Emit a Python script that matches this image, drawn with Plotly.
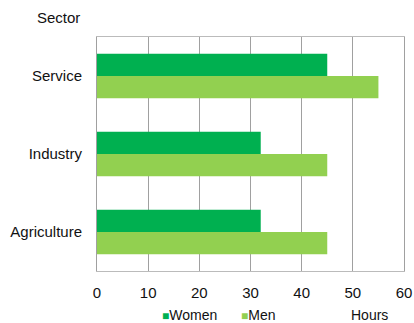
import plotly.graph_objects as go

sectors = ["Agriculture", "Industry", "Service"]
women = [32, 32, 45]
men = [45, 45, 55]
x_ticks = [0, 10, 20, 30, 40, 50, 60]
women_color = "#00B050"
men_color = "#92D050"

W, H = 414, 323
ML, MR, MT, MB = 97, 10, 37, 52
PW, PH = W - ML - MR, H - MT - MB

def px(x):
    return (x - ML) / PW

def py(y):
    return 1 - (y - MT) / PH

font = "Liberation Sans, Arial, sans-serif"
fig = go.Figure()
fig.add_trace(go.Bar(y=sectors, x=men, orientation="h", name="Men",
                     marker=dict(color=men_color, line=dict(width=0))))
fig.add_trace(go.Bar(y=sectors, x=women, orientation="h", name="Women",
                     marker=dict(color=women_color, line=dict(width=0))))

ann_font = dict(family=font, size=15, color="#111")
leg_font = dict(family=font, size=14, color="#111")
fig.update_layout(
    width=W, height=H,
    margin=dict(l=ML, r=MR, t=MT, b=MB, autoexpand=False),
    barmode="group", bargap=0.43, bargroupgap=0,
    plot_bgcolor="white", paper_bgcolor="white",
    font=dict(family=font, size=15, color="#111"),
    showlegend=False,
    xaxis=dict(range=[0, 60], tickvals=x_ticks, showgrid=True, gridcolor="#A0A0A0",
               gridwidth=1, zeroline=False, showline=True, linecolor="#BBBBBB",
               mirror=True, ticks="", ticklabelstandoff=8, automargin=False),
    yaxis=dict(showgrid=False, zeroline=False, showline=True, linecolor="#A0A0A0",
               mirror=True, ticks="", ticklabelstandoff=11, automargin=False),
    annotations=[
        dict(text="Sector", x=px(58), y=py(17), xref="paper", yref="paper",
             showarrow=False, xanchor="center", yanchor="middle", font=ann_font),
        dict(text=f"<span style='color:{women_color};font-size:12px'>■</span>Women",
             x=px(160), y=py(315), xref="paper", yref="paper",
             showarrow=False, xanchor="left", yanchor="middle", font=leg_font),
        dict(text=f"<span style='color:{men_color};font-size:12px'>■</span>Men",
             x=px(239), y=py(315), xref="paper", yref="paper",
             showarrow=False, xanchor="left", yanchor="middle", font=leg_font),
        dict(text="Hours", x=px(369), y=py(315), xref="paper", yref="paper",
             showarrow=False, xanchor="center", yanchor="middle", font=leg_font),
    ],
)
fig.write_html("out.html", config={"displayModeBar": False},
               post_script="document.body.style.margin='0';document.body.style.padding='0';")
